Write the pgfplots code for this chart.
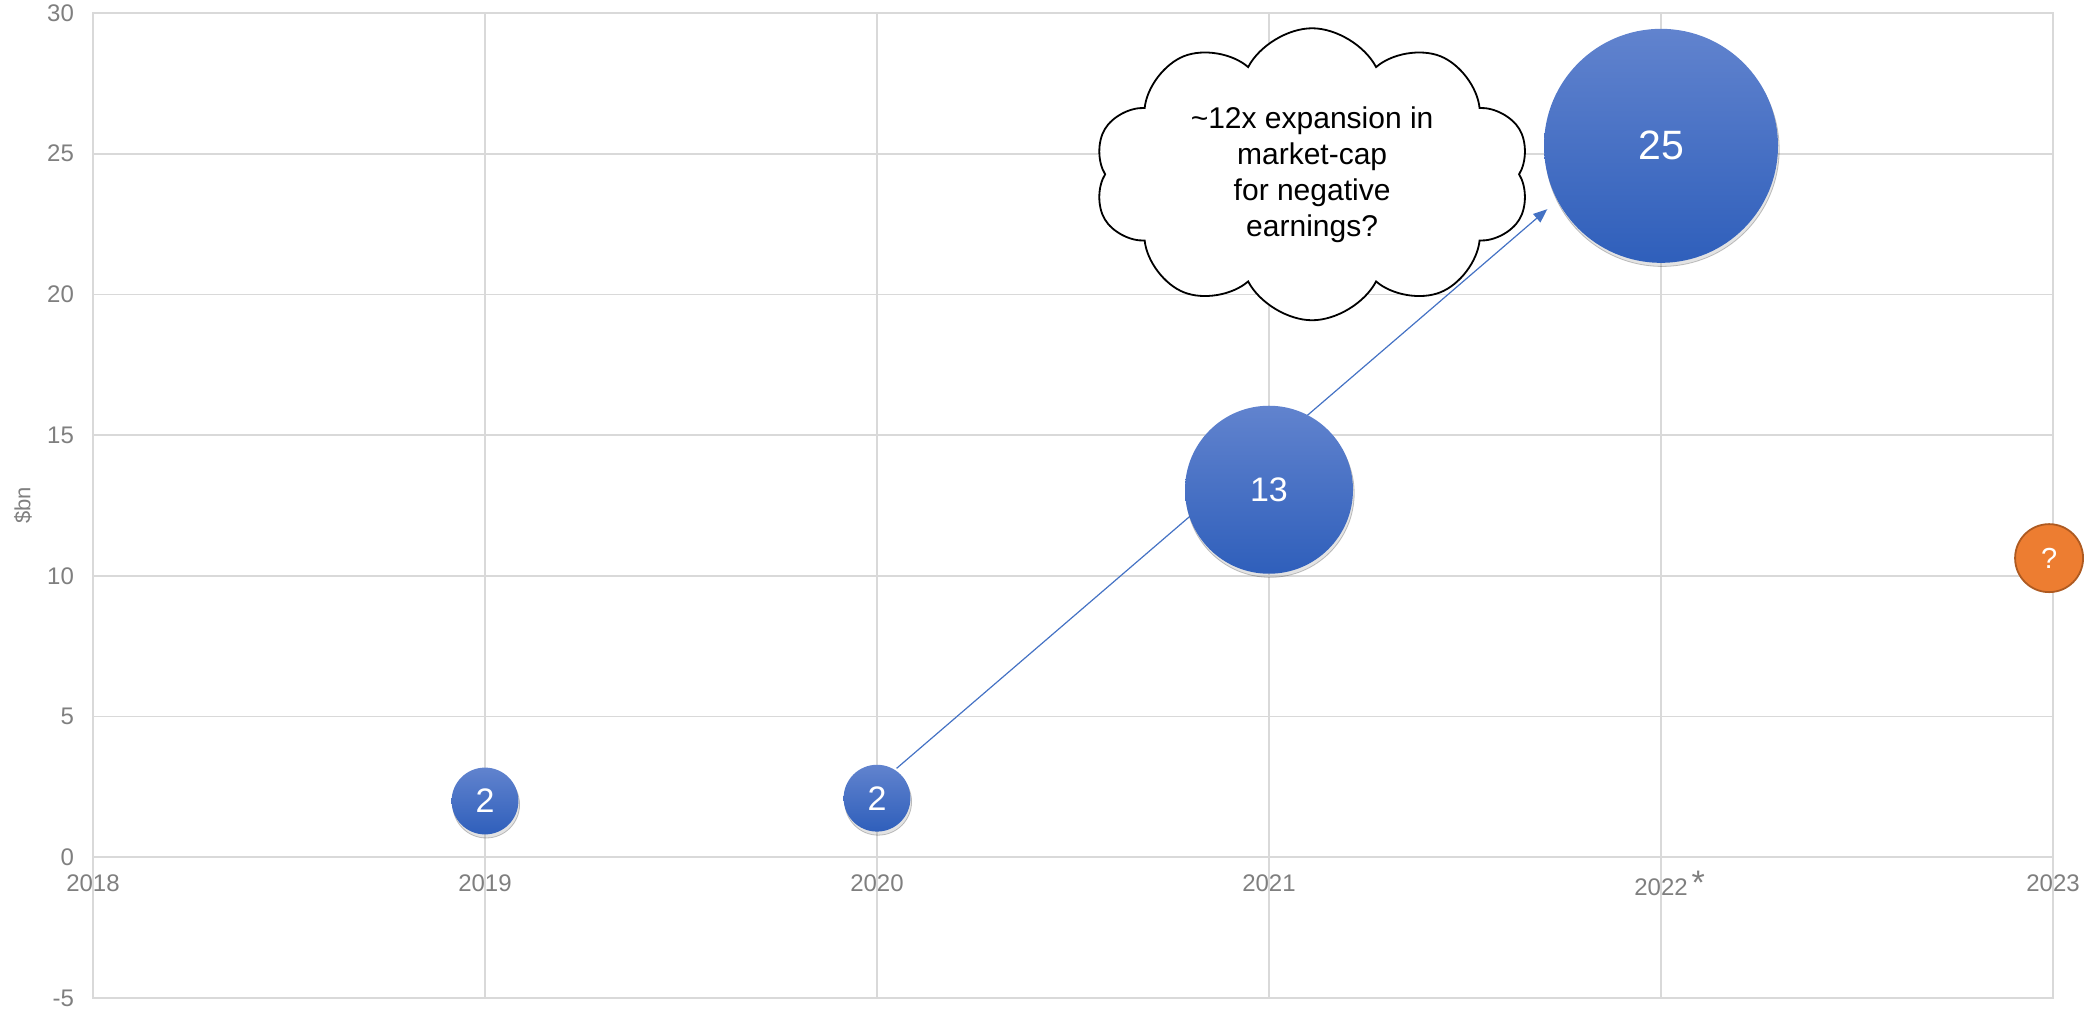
\documentclass[border=0pt]{standalone}
\usepackage{fontspec}
\setmainfont{Liberation Sans}
\usepackage{pgfplots}
\pgfplotsset{compat=1.18}
\usetikzlibrary{shapes.symbols,shadows,arrows.meta}

\definecolor{gridgray}{HTML}{D9D9D9}
\definecolor{ticktext}{HTML}{7F7F7F}
\definecolor{bubtop}{HTML}{6183CE}
\definecolor{bubbot}{HTML}{2F5FBB}
\definecolor{arrowblue}{HTML}{4472C4}
\definecolor{orangefill}{HTML}{ED7D31}
\definecolor{orangeedge}{HTML}{AE5A21}

\pgfplotsset{
  bub/.style n args={3}{
    only marks, mark=none,
    nodes near coords={#2},
    every node near coord/.append style={
      circle, minimum size=#1, inner sep=0pt,
      top color=bubtop, bottom color=bubbot, draw=none,
      text=white, font=\fontsize{#3}{#3}\selectfont, anchor=center,
      drop shadow={shadow xshift=0.6pt, shadow yshift=-1.8pt, opacity=0.22}
    }
  }
}

\begin{document}
\begin{tikzpicture}
\begin{axis}[
  at={(0,0)}, anchor=south west,
  scale only axis, width=980pt, height=492.5pt,
  xmin=2018, xmax=2023, ymin=-5, ymax=30,
  xtick={2018,2019,2020,2021,2022,2023},
  xticklabels={2018,2019,2020,2021,{2022\rlap{\,\raisebox{0.05ex}{\fontsize{17}{17}\selectfont *}}},2023},
  ytick={-5,0,5,10,15,20,25,30},
  yticklabels={-5,0,5,10,15,20,25,30},
  grid=major,
  major grid style={gridgray, line width=0.8pt},
  axis line style={gridgray, line width=0.8pt},
  major tick length=0pt, tick style={draw=none},
  ticklabel style={font=\fontsize{12}{14}\selectfont, text=ticktext},
  xticklabel style={anchor=center, yshift=57.4pt},
  yticklabel style={xshift=-6pt},
  ylabel={\$bn},
  every axis y label/.style={at={(axis description cs:-0.0357,0.5)}, rotate=90, anchor=center, font=\fontsize{11}{13}\selectfont, text=ticktext},
  clip=false,
]
\addplot[bub={33.4pt}{2}{17}] coordinates {(2019,2.0)};
\addplot[bub={33.4pt}{2}{17}] coordinates {(2020,2.1)};
\addplot[bub={84pt}{13}{17}] coordinates {(2021,13.06)};
\addplot[bub={117pt}{25}{20.5}] coordinates {(2022,25.28)};
\addplot[only marks, mark=none, nodes near coords={?},
  every node near coord/.append style={circle, minimum size=34pt, inner sep=0pt,
    fill=orangefill, draw=orangeedge, line width=0.9pt, text=white,
    font=\fontsize{14.5}{14.5}\selectfont, anchor=center}]
  coordinates {(2022.99,10.63)};
\draw[arrowblue, line width=0.6pt, -{Triangle[length=7pt,width=5.5pt]}]
  (axis cs:2020.05,3.16) -- (axis cs:2021.71,23.03);
\node[cloud, cloud puffs=10, cloud puff arc=125, aspect=1.55, draw=black,
  line width=0.9pt, fill=white, minimum width=218pt, minimum height=146pt,
  align=center, inner sep=0pt, font=\fontsize{15}{18}\selectfont]
  at (axis cs:2021.11,24.27)
  {\textasciitilde12x expansion in\\market-cap\\for negative\\earnings?};
\end{axis}
\pgfresetboundingbox
\path (-46.5pt,-5pt) rectangle (997.5pt,499pt);
\end{tikzpicture}
\end{document}
